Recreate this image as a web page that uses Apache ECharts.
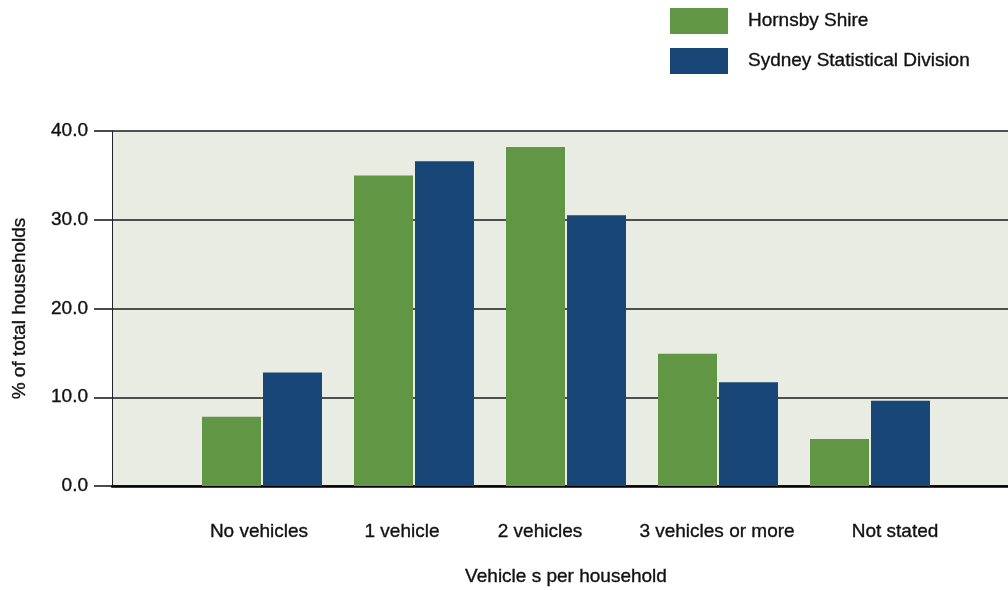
<!DOCTYPE html>
<html>
<head>
<meta charset="utf-8">
<script src="https://cdn.jsdelivr.net/npm/echarts@6/dist/echarts.min.js"></script>
<style>
  html, body { margin: 0; padding: 0; background: #ffffff; }
  #chart { width: 1008px; height: 590px; }
</style>
</head>
<body>
<div id="chart"></div>
<script>
// Vehicles per household, share of total households (%)
const categories = ['No vehicles', '1 vehicle', '2 vehicles', '3 vehicles or more', 'Not stated'];
const hornsby = [7.8, 35.0, 38.2, 14.9, 5.3];
const sydney = [12.8, 36.6, 30.5, 11.7, 9.6];
const seriesNames = ['Hornsby Shire', 'Sydney Statistical Division'];
const yTicks = [0, 10, 20, 30, 40];

// horizontal nudge (px) of each category label relative to its bar pair
const labelShift = [-3, -12, -26, -1, 25];

const FONT = '"Liberation Sans", Arial, sans-serif';
const FS = 19;
const INK = '#111111';
const GREEN = '#619744';
const BLUE = '#174677';

// slightly heavier strokes for all text
const txt = { fontFamily: FONT, fontSize: FS, color: INK, textBorderColor: INK, textBorderWidth: 0.35 };

const labelRich = {};
labelShift.forEach((d, i) => {
  labelRich['c' + i] = Object.assign({}, txt, {
    padding: d < 0 ? [0, -2 * d, 0, 0] : [0, 0, 0, 2 * d]
  });
});

const chart = echarts.init(document.getElementById('chart'), null, { renderer: 'canvas' });

const option = {
  animation: false,
  textStyle: { fontFamily: FONT, color: INK },
  legend: {
    orient: 'vertical',
    left: 670,
    top: 8,
    padding: 0,
    itemWidth: 58,
    itemHeight: 26,
    itemGap: 14,
    icon: 'rect',
    data: seriesNames,
    textStyle: Object.assign({}, txt, { padding: [0, 0, 0, 15] })
  },
  grid: [
    // plot background, gridlines and value axis
    { left: 112, right: -20, top: 131, bottom: 104, show: true, backgroundColor: '#e9ece2',
      borderWidth: 0, outerBoundsMode: 'none', containLabel: false },
    // bars
    { left: 186, right: 62, top: 131, bottom: 104, outerBoundsMode: 'none', containLabel: false }
  ],
  xAxis: [
    {
      gridIndex: 0, type: 'category', data: [''],
      axisLine: { show: true, lineStyle: { color: '#000000', width: 2.5 } },
      axisTick: { show: false }, axisLabel: { show: false }, splitLine: { show: false }
    },
    {
      gridIndex: 1, type: 'category', data: categories,
      axisLine: { show: false }, axisTick: { show: false },
      axisLabel: Object.assign({}, txt, {
        margin: 36, interval: 0,
        formatter: (v, i) => '{c' + i + '|' + v + '}',
        rich: labelRich
      }),
      name: 'Vehicle s per household',
      nameLocation: 'middle', nameGap: 81,
      nameTextStyle: txt
    }
  ],
  yAxis: [
    {
      gridIndex: 0, type: 'value', min: yTicks[0], max: yTicks[yTicks.length - 1], interval: 10,
      axisLine: { show: true, lineStyle: { color: '#222222', width: 1 } },
      axisTick: { show: true, length: 18, lineStyle: { color: INK, width: 1.5 } },
      axisLabel: Object.assign({}, txt, { margin: 24, formatter: v => v.toFixed(1) }),
      splitLine: { show: true, lineStyle: { color: '#1a1a1a', width: 1.6 } },
      name: '% of total households',
      nameLocation: 'middle', nameGap: 83,
      nameTextStyle: txt
    },
    {
      gridIndex: 1, type: 'value', min: yTicks[0], max: yTicks[yTicks.length - 1], interval: 10,
      show: false, splitLine: { show: false }
    }
  ],
  series: [
    {
      name: seriesNames[0], type: 'bar', xAxisIndex: 1, yAxisIndex: 1,
      data: hornsby, barWidth: 59, barGap: '3.4%',
      itemStyle: { color: GREEN }
    },
    {
      name: seriesNames[1], type: 'bar', xAxisIndex: 1, yAxisIndex: 1,
      data: sydney, barWidth: 59, barGap: '3.4%',
      itemStyle: { color: BLUE }
    }
  ]
};

chart.setOption(option);
</script>
</body>
</html>
